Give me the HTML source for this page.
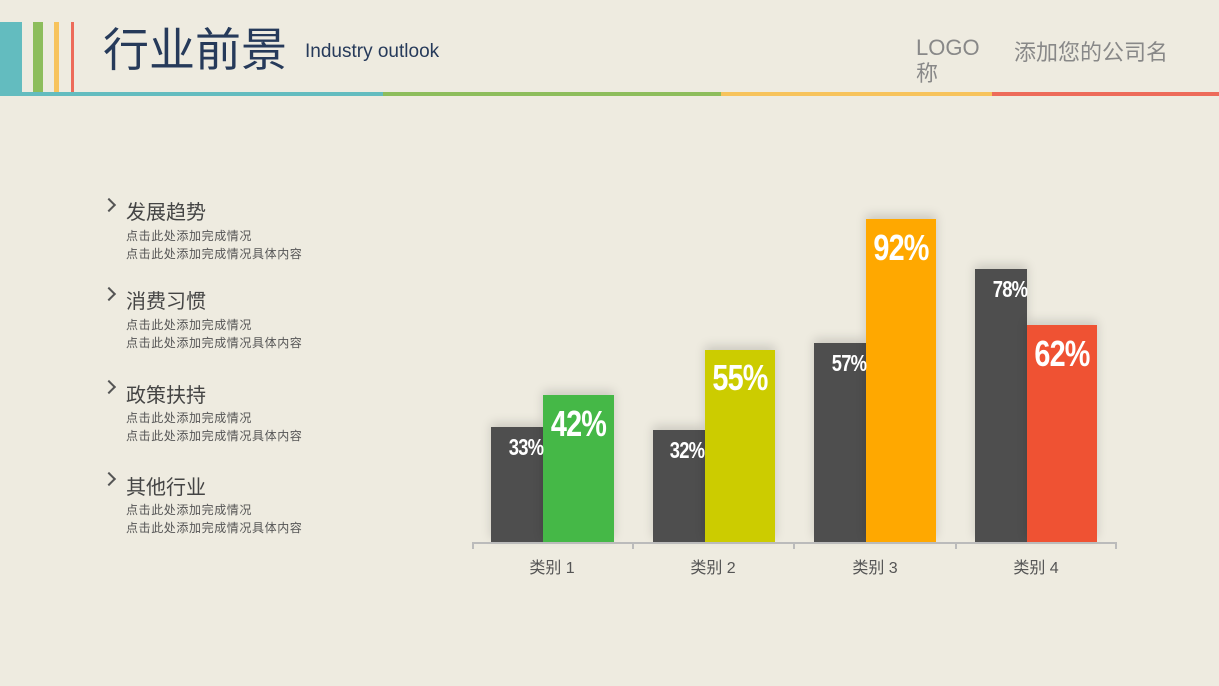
<!DOCTYPE html>
<html><head><meta charset="utf-8"><style>
body{margin:0;width:1219px;height:686px;background:#eeebe0;position:relative;overflow:hidden;font-family:"Liberation Sans","Noto Sans CJK SC",sans-serif}
.a{position:absolute}
.bar{position:absolute;box-shadow:0 -4px 10px rgba(0,0,0,0.15)}
.lbl{position:absolute;color:#fff;font-family:"Liberation Sans Narrow","Liberation Sans",sans-serif;font-weight:bold;text-align:center;transform:scaleX(0.8);letter-spacing:-1px}
.h{font-size:20px;color:#444}
.s{font-size:12px;color:#555;line-height:18px;letter-spacing:0.6px}
.ch{position:absolute;width:8px;height:8px;border-right:2px solid #555;border-top:2px solid #555;transform:rotate(45deg)}
.cat{position:absolute;top:554px;width:160px;text-align:center;font-size:16px;color:#555}
</style></head><body>
<div class="a" style="left:0;top:22px;width:22px;height:74px;background:#63bcbf"></div>
<div class="a" style="left:33px;top:22px;width:10px;height:72px;background:#8dbd5c"></div>
<div class="a" style="left:54px;top:22px;width:5px;height:72px;background:#f7c35c"></div>
<div class="a" style="left:71px;top:22px;width:3px;height:72px;background:#ed6b5a"></div>
<div class="a" style="left:0;top:92px;width:383px;height:4px;background:#63bcbf"></div>
<div class="a" style="left:383px;top:92px;width:338px;height:4px;background:#8dbd5c"></div>
<div class="a" style="left:721px;top:92px;width:271px;height:4px;background:#f7c35c"></div>
<div class="a" style="left:992px;top:92px;width:227px;height:4px;background:#ed6b5a"></div>
<div class="a" style="left:103px;top:20px;font-size:46px;color:#263a5a;line-height:60px">行业前景</div>
<div class="a" style="left:305px;top:41px;font-size:19px;color:#263a5a">Industry outlook</div>
<div class="a" style="left:916px;top:35px;font-size:22px;color:#888;line-height:26px;width:80px">LOGO<br>称</div>
<div class="a" style="left:1014px;top:35px;font-size:22px;color:#888">添加您的公司名</div>

<div class="ch" style="left:104px;top:200px"></div><div class="a h" style="left:126px;top:196px">发展趋势</div>
<div class="a s" style="left:126px;top:227px">点击此处添加完成情况<br>点击此处添加完成情况具体内容</div>
<div class="ch" style="left:104px;top:289px"></div><div class="a h" style="left:126px;top:285px">消费习惯</div>
<div class="a s" style="left:126px;top:316px">点击此处添加完成情况<br>点击此处添加完成情况具体内容</div>
<div class="ch" style="left:104px;top:382px"></div><div class="a h" style="left:126px;top:379px">政策扶持</div>
<div class="a s" style="left:126px;top:409px">点击此处添加完成情况<br>点击此处添加完成情况具体内容</div>
<div class="ch" style="left:104px;top:474px"></div><div class="a h" style="left:126px;top:471px">其他行业</div>
<div class="a s" style="left:126px;top:501px">点击此处添加完成情况<br>点击此处添加完成情况具体内容</div>

<div class="bar" style="left:491px;top:427px;width:52px;height:115px;background:#4e4e4e"></div>
<div class="bar" style="left:543px;top:395px;width:71px;height:147px;background:#45b847"></div>
<div class="bar" style="left:653px;top:430px;width:52px;height:112px;background:#4e4e4e"></div>
<div class="bar" style="left:705px;top:350px;width:70px;height:192px;background:#cccc00"></div>
<div class="bar" style="left:814px;top:343px;width:52px;height:199px;background:#4e4e4e"></div>
<div class="bar" style="left:866px;top:219px;width:70px;height:323px;background:#ffa800"></div>
<div class="bar" style="left:975px;top:269px;width:52px;height:273px;background:#4e4e4e"></div>
<div class="bar" style="left:1027px;top:325px;width:70px;height:217px;background:#ef5233"></div>

<div class="lbl" style="left:500px;top:434px;width:52px;font-size:23px">33%</div>
<div class="lbl" style="left:543px;top:403px;width:71px;font-size:36px">42%</div>
<div class="lbl" style="left:661px;top:437px;width:52px;font-size:23px">32%</div>
<div class="lbl" style="left:705px;top:357px;width:70px;font-size:36px">55%</div>
<div class="lbl" style="left:823px;top:350px;width:52px;font-size:23px">57%</div>
<div class="lbl" style="left:866px;top:227px;width:70px;font-size:36px">92%</div>
<div class="lbl" style="left:984px;top:276px;width:52px;font-size:23px">78%</div>
<div class="lbl" style="left:1027px;top:333px;width:70px;font-size:36px">62%</div>

<div class="a" style="left:472px;top:542px;width:645px;height:2px;background:#bbb"></div>
<div class="a" style="left:472px;top:542px;width:2px;height:7px;background:#bbb"></div>
<div class="a" style="left:632px;top:542px;width:2px;height:7px;background:#bbb"></div>
<div class="a" style="left:793px;top:542px;width:2px;height:7px;background:#bbb"></div>
<div class="a" style="left:955px;top:542px;width:2px;height:7px;background:#bbb"></div>
<div class="a" style="left:1115px;top:542px;width:2px;height:7px;background:#bbb"></div>
<div class="cat" style="left:472px">类别 1</div>
<div class="cat" style="left:633px">类别 2</div>
<div class="cat" style="left:795px">类别 3</div>
<div class="cat" style="left:956px">类别 4</div>
</body></html>
